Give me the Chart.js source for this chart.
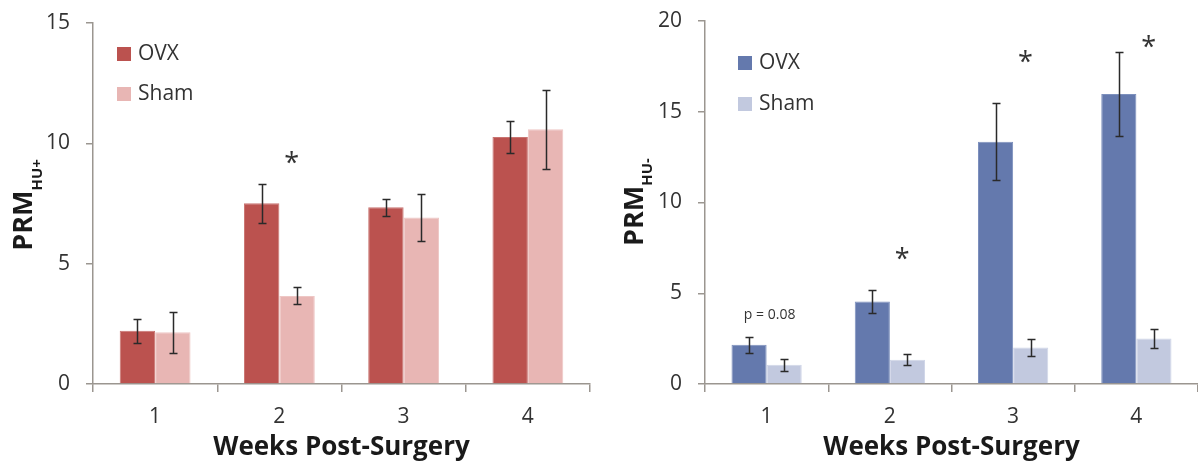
<!DOCTYPE html>
<html>
<head>
<meta charset="utf-8">
<script src="https://cdn.jsdelivr.net/npm/chart.js@4.4.1/dist/chart.umd.min.js"></script>
<style>
  html, body { margin: 0; padding: 0; background: #ffffff; }
  #wrap { position: relative; width: 1198px; height: 464px; overflow: hidden; }
  .panel { position: absolute; top: 0; }
</style>
</head>
<body>
<div id="wrap">
  <div class="panel" style="left:0"><canvas id="prmPlus" width="598" height="464"></canvas></div>
  <div class="panel" style="left:598px"><canvas id="prmMinus" width="600" height="464"></canvas></div>
</div>
<script>
// ---- data ----
const weeks = ['1', '2', '3', '4'];
const seriesNames = ['OVX', 'Sham'];

// PRM HU+ (mean and SEM per week)
const plusOvx = [2.21, 7.51, 7.34, 10.26];
const plusOvxErr = [0.50, 0.82, 0.34, 0.67];
const plusSham = [2.15, 3.66, 6.92, 10.59];
const plusShamErr = [0.85, 0.35, 0.96, 1.64];
const plusTicks = [0, 5, 10, 15];
const plusStars = [null, 9.43, null, null];

// PRM HU- (mean and SEM per week)
const minusOvx = [2.16, 4.55, 13.35, 15.98];
const minusOvxErr = [0.44, 0.62, 2.12, 2.33];
const minusSham = [1.06, 1.34, 2.01, 2.51];
const minusShamErr = [0.34, 0.30, 0.48, 0.52];
const minusTicks = [0, 5, 10, 15, 20];
const minusStars = [null, 7.23, 18.07, 18.9];
const minusNote = { week: 0, level: 3.78, text: 'p = 0.08' };

Chart.defaults.font.family = '"Open Sans", "Noto Sans", sans-serif';
Chart.defaults.color = '#333333';

const AXIS = '#9b9690';
const INK = '#2a2a2a';

// Draws error bars, significance marks, legend and the y-axis title with subscript
function overlay(cfg) {
  return {
    id: 'overlay',
    afterDatasetsDraw(chart) {
      const ctx = chart.ctx;
      const xs = chart.scales.x, ys = chart.scales.y;
      const area = chart.chartArea;
      ctx.save();

      // error bars
      ctx.strokeStyle = INK;
      ctx.lineWidth = 1.5;
      chart.data.datasets.forEach((ds, di) => {
        const meta = chart.getDatasetMeta(di);
        meta.data.forEach((bar, i) => {
          const v = ds.data[i], e = cfg.errors[di][i];
          const yt = Math.round(ys.getPixelForValue(v + e)) + 0.5;
          const yb = Math.round(ys.getPixelForValue(v - e)) + 0.5;
          const x = Math.round(bar.x) + 0.5;
          ctx.beginPath();
          ctx.moveTo(x, yt); ctx.lineTo(x, yb);
          ctx.moveTo(x - 4, yt); ctx.lineTo(x + 4, yt);
          ctx.moveTo(x - 4, yb); ctx.lineTo(x + 4, yb);
          ctx.stroke();
        });
      });

      // significance asterisks
      const catW = (area.right - area.left) / weeks.length;
      ctx.fillStyle = '#333333';
      ctx.font = '27px "Open Sans"';
      ctx.textAlign = 'center';
      ctx.textBaseline = 'alphabetic';
      cfg.stars.forEach((lvl, i) => {
        if (lvl === null) return;
        const x = xs.getPixelForValue(i) + 0.1 * catW;
        const y = ys.getPixelForValue(lvl);
        ctx.fillText('*', x, y + 15);
      });

      // p-value note
      if (cfg.note) {
        ctx.font = '14px "Open Sans"';
        ctx.textBaseline = 'middle';
        ctx.fillText(cfg.note.text, xs.getPixelForValue(cfg.note.week) + 3, ys.getPixelForValue(cfg.note.level));
      }

      // legend
      ctx.textAlign = 'left';
      ctx.textBaseline = 'middle';
      ctx.font = '21px "Open Sans"';
      chart.data.datasets.forEach((ds, di) => {
        const bx = area.left + cfg.legend.dx;
        const by = area.top + cfg.legend.dy + di * cfg.legend.gap;
        ctx.fillStyle = ds.backgroundColor;
        ctx.fillRect(bx, by, 14, 14);
        ctx.fillStyle = '#333333';
        ctx.fillText(ds.label, bx + 21, by + 7);
      });

      // y-axis title: PRM with subscript
      ctx.save();
      ctx.translate(cfg.title.x, cfg.title.cy);
      ctx.rotate(-Math.PI / 2);
      ctx.fillStyle = '#1a1a1a';
      ctx.textBaseline = 'alphabetic';
      ctx.font = 'bold 27px "Open Sans"';
      const w1 = ctx.measureText(cfg.title.main).width;
      ctx.font = 'bold 15px "Open Sans"';
      const w2 = ctx.measureText(cfg.title.sub).width;
      const start = -(w1 + w2) / 2;
      ctx.font = 'bold 27px "Open Sans"';
      ctx.fillText(cfg.title.main, start, 0);
      ctx.font = 'bold 15px "Open Sans"';
      ctx.fillText(cfg.title.sub, start + w1, cfg.title.subDrop);
      ctx.restore();

      ctx.restore();
    }
  };
}

function build(id, p) {
  return new Chart(document.getElementById(id), {
    type: 'bar',
    data: {
      labels: weeks,
      datasets: [
        { label: seriesNames[0], data: p.ovx, backgroundColor: p.colors[0], borderColor: p.borders[0], borderWidth: 1 },
        { label: seriesNames[1], data: p.sham, backgroundColor: p.colors[1], borderColor: p.borders[1], borderWidth: 1 }
      ]
    },
    options: {
      responsive: false,
      animation: false,
      layout: { padding: { left: 0, top: p.top, right: p.right, bottom: 0 } },
      datasets: { bar: { categoryPercentage: 0.57, barPercentage: 1.0 } },
      plugins: { legend: { display: false }, tooltip: { enabled: false } },
      scales: {
        x: {
          grid: { display: true, drawOnChartArea: false, drawTicks: true, tickLength: 8, color: AXIS, lineWidth: 1.5, offset: true },
          border: { display: true, color: AXIS, width: 1.5 },
          ticks: { font: { size: 21 }, color: '#333333', padding: 12 },
          title: { display: true, text: 'Weeks Post-Surgery', font: { size: 26, weight: 'bold', lineHeight: 1 }, color: '#1a1a1a', padding: { top: 0, bottom: 3 } },
          afterFit(s) { s.height = 80; }
        },
        y: {
          min: 0,
          max: p.ticks[p.ticks.length - 1],
          afterBuildTicks(s) { s.ticks = p.ticks.map(v => ({ value: v })); },
          grid: { display: true, drawOnChartArea: false, drawTicks: true, tickLength: 7, color: AXIS, lineWidth: 1.5 },
          border: { display: true, color: AXIS, width: 1.5 },
          ticks: { font: { size: 21, lineHeight: 0.3 }, color: '#333333', padding: 16 },
          afterFit(s) { s.width = p.yWidth; }
        }
      }
    },
    plugins: [overlay({
      errors: [p.ovxErr, p.shamErr],
      stars: p.stars,
      note: p.note,
      legend: p.legend,
      title: p.title
    })]
  });
}

build('prmPlus', {
  ovx: plusOvx, ovxErr: plusOvxErr, sham: plusSham, shamErr: plusShamErr,
  ticks: plusTicks, stars: plusStars, note: null,
  colors: ['#bb524f', '#e8b6b4'], borders: ['#c97471', '#eec7c5'],
  top: 23, right: 8, yWidth: 93,
  legend: { dx: 24, dy: 24, gap: 40 },
  title: { x: 32, cy: 205, main: 'PRM', sub: 'HU+', subDrop: 10 }
});

build('prmMinus', {
  ovx: minusOvx, ovxErr: minusOvxErr, sham: minusSham, shamErr: minusShamErr,
  ticks: minusTicks, stars: minusStars, note: minusNote,
  colors: ['#6479ad', '#c2c9df'], borders: ['#7d90bd', '#d0d6e8'],
  top: 21, right: 0, yWidth: 107,
  legend: { dx: 33, dy: 35, gap: 41 },
  title: { x: 45, cy: 202, main: 'PRM', sub: 'HU-', subDrop: 9 }
});
</script>
</body>
</html>
